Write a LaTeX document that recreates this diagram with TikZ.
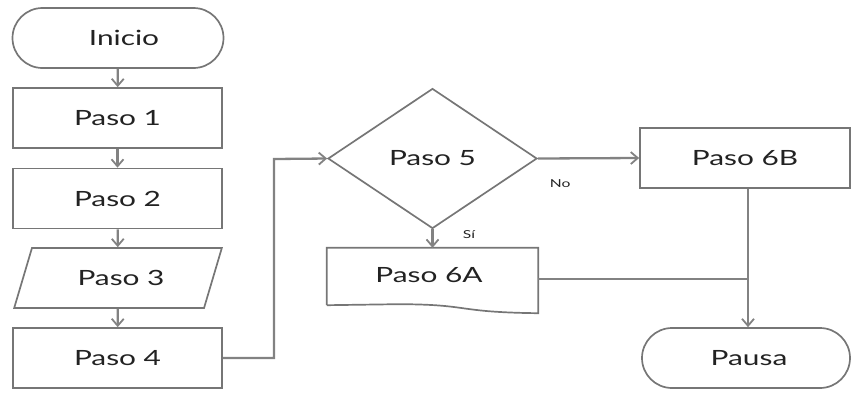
\documentclass[tikz,border=0pt]{standalone}
\usepackage{graphicx}
\usepackage{fontspec}
\setmainfont{Lato}
\usetikzlibrary{arrows.meta,shapes.geometric,shapes.misc}
\definecolor{edge}{HTML}{767676}
\definecolor{flow}{HTML}{828282}
\definecolor{ink}{HTML}{222222}
% labels are set wide
\newcommand\widetxt[1]{\scalebox{1.42}[1]{#1}}
\begin{document}
\begin{tikzpicture}[x=1pt,y=-1pt,
  every node/.style={text=ink,font=\fontsize{21}{24}\selectfont},
  stepbox/.style={draw=edge,line width=1.7pt,minimum width=209pt,minimum height=60pt,inner sep=0pt},
  terminal/.style={draw=edge,line width=1.7pt,rounded rectangle,minimum width=211pt,minimum height=60pt,inner sep=0pt},
  iobox/.style={draw=edge,line width=1.7pt,trapezium,trapezium stretches=true,trapezium left angle=58,trapezium right angle=122,minimum width=208pt,minimum height=60pt,inner sep=0pt},
  decision/.style={draw=edge,line width=1.7pt,diamond,aspect=1.49,minimum width=209pt,minimum height=140pt,inner sep=0pt},
  flowline/.style={draw=flow,line width=2.3pt,-{Straight Barb[length=7pt,width=12pt,line width=1.8pt]}},
  plainline/.style={draw=flow,line width=2.3pt},
  tag/.style={text=ink,font=\fontsize{11}{13}\selectfont}
]
\useasboundingbox (0,0) rectangle (851,392);

% left column
\node[terminal] (inicio) at (118,38) {\hspace{12pt}\widetxt{Inicio}};
\node[stepbox] (p1) at (117.5,118) {\widetxt{Paso 1}};
\node[stepbox] (p2) at (117.5,198.5) {\widetxt{Paso 2}};
\node[iobox] (p3) at (118,278) {\hspace{6pt}\widetxt{Paso 3}};
\node[stepbox] (p4) at (117.5,358) {\widetxt{Paso 4}};

% decision and branches
\node[decision] (p5) at (432.5,158.5) {};
\node at (432.5,158) {\widetxt{Paso 5}};
\node[stepbox,minimum width=210pt] (p6b) at (745,158) {\widetxt{Paso 6B}};
\node[terminal,minimum width=208pt] (pausa) at (746,358) {\hspace{6pt}\widetxt{Pausa}};

% document shape for step 6A
\node[minimum width=211pt,minimum height=57pt,inner sep=0pt] (p6a) at (432.5,276.5) {};
\node at (429,275) {\widetxt{Paso 6A}};
\draw[edge,line width=1.7pt] (p6a.south west) |- (p6a.north east) -- ([yshift=-8pt]p6a.south east)
  .. controls +(-85,-1) and +(75,0) .. ([xshift=70pt,yshift=1pt]p6a.south west) -- (p6a.south west);

\coordinate (jn) at (748,279);
\coordinate (bend1) at (274,358);
\coordinate (bend2) at (274,159);

% connectors
\draw[flowline] (inicio) -- (p1);
\draw[flowline] (p1) -- (p2);
\draw[flowline] (p2) -- (p3);
\draw[flowline] (p3) -- (p4);
\draw[flowline] (p4.east) -- (bend1) -- (bend2) -- (p5.west);
\draw[flowline] (p5.east) -- (p6b.west) node[tag,pos=0.22,below=17pt] {\widetxt{No}};
\draw[flowline] (p5.south) -- (p6a.north) node[tag,pos=0.3,right=26pt] {\widetxt{Sí}};
\draw[flowline] (p6b.south -| jn) -- (pausa.north -| jn);
\draw[plainline] (p6a.east |- jn) -- (jn);
\end{tikzpicture}
\end{document}
